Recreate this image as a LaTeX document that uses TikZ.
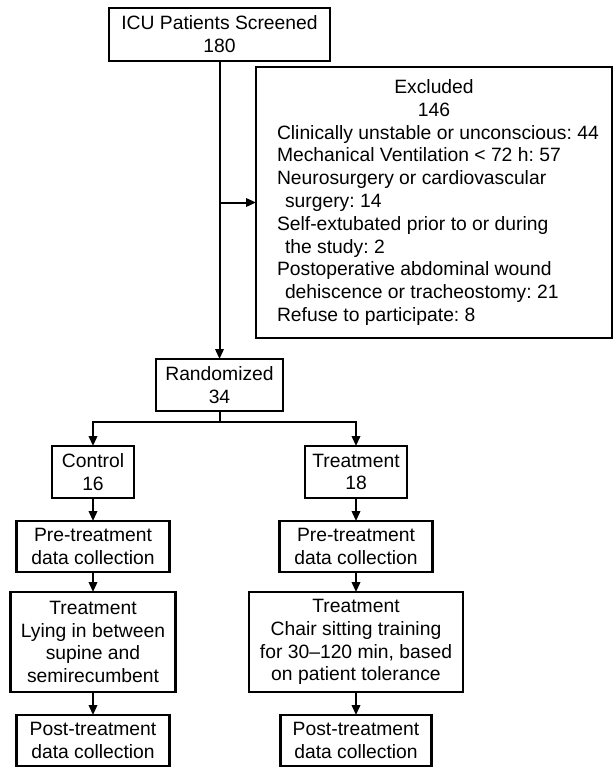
\documentclass[tikz,border=0pt]{standalone}
\usepackage{fontspec}
\setmainfont{Liberation Sans}
\usetikzlibrary{arrows.meta, positioning}
\tikzset{
  fbox/.style={draw=black, line width=2.4pt, fill=white, align=center,
               inner sep=0pt, outer sep=0pt,
               font=\fontsize{19.3}{22.8}\selectfont\frenchspacing},
  arr/.style={-{Triangle[length=10pt,width=8.5pt]}, line width=2pt, black},
  plain/.style={line width=2pt, black},
}
\newcommand{\hdline}[1]{\makebox[330pt][c]{#1}}
\newcommand{\exline}[1]{\hspace*{8pt}#1}
\newcommand{\subline}[1]{\hspace*{16pt}#1}

\begin{document}
\begin{tikzpicture}[x=1pt, y=1pt]
  \useasboundingbox (0,0) rectangle (614,-768);

  %% Screening and exclusion
  \node[fbox, minimum width=221pt, minimum height=53pt] (screen)
    at (219.5,-34.5) {ICU Patients Screened\\180};
  \node[fbox, anchor=north west, minimum width=356pt, minimum height=271pt,
        align=left] (excl) at (256,-67)
    {\hdline{Excluded}\\
     \hdline{146}\\
     \exline{Clinically unstable or unconscious: 44}\\
     \exline{Mechanical Ventilation < 72 h: 57}\\
     \exline{Neurosurgery or cardiovascular}\\
     \subline{surgery: 14}\\
     \exline{Self-extubated prior to or during}\\
     \subline{the study: 2}\\
     \exline{Postoperative abdominal wound}\\
     \subline{dehiscence or tracheostomy: 21}\\
     \exline{Refuse to participate: 8}};

  %% Randomisation
  \node[fbox, minimum width=127pt, minimum height=52pt,
        below=298pt of screen] (rand) {Randomized\\34};

  \draw[arr] (screen.south) -- (rand.north);
  \draw[arr] (screen.south |- excl.west) -- (excl.west);

  %% Control arm (left column)
  \node[fbox, minimum width=82pt, minimum height=52pt,
        below=35pt of rand, xshift=-126.5pt] (ctrl) {Control\\16};
  \node[fbox, minimum width=153pt, minimum height=51pt,
        below=23pt of ctrl] (pre1) {Pre-treatment\\data collection};
  \node[fbox, minimum width=165pt, minimum height=100pt,
        below=20pt of pre1] (trt1)
    {Treatment\\Lying in between\\supine and\\semirecumbent};
  \node[fbox, minimum width=153pt, minimum height=51pt,
        below=23pt of trt1] (post1) {Post-treatment\\data collection};

  %% Treatment arm (right column)
  \node[fbox, minimum width=102pt, minimum height=52pt,
        below=35pt of rand, xshift=136.5pt] (treat) {Treatment\\18};
  \node[fbox, minimum width=153pt, minimum height=51pt,
        below=23pt of treat] (pre2) {Pre-treatment\\data collection};
  \node[fbox, minimum width=214pt, minimum height=100pt,
        below=20pt of pre2] (trt2)
    {Treatment\\Chair sitting training\\for 30--120 min, based\\on patient tolerance};
  \node[fbox, minimum width=151pt, minimum height=51pt,
        below=23pt of trt2] (post2) {Post-treatment\\data collection};

  %% Branch and chains
  \draw[plain] (rand.south) -- ++(0,-11) coordinate (split);
  \draw[arr] (split) -| (ctrl.north);
  \draw[arr] (split) -| (treat.north);

  \draw[arr] (ctrl) -- (pre1);
  \draw[arr] (pre1) -- (trt1);
  \draw[arr] (trt1) -- (post1);
  \draw[arr] (treat) -- (pre2);
  \draw[arr] (pre2) -- (trt2);
  \draw[arr] (trt2) -- (post2);

\end{tikzpicture}
\end{document}
